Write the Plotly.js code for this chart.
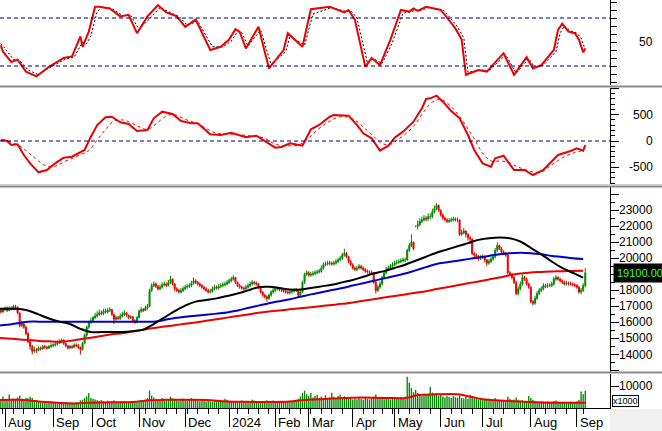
<!DOCTYPE html>
<html><head><meta charset="utf-8">
<script src="https://cdn.plot.ly/plotly-3.0.1.min.js"></script>
<style>html,body{margin:0;padding:0;background:#fff}#chart{width:662px;height:431px}</style>
</head><body><div id="chart"></div>
<script>
// ---- calendar ----
const START_DATE = '2023-07-26';
const HOLIDAYS = ['2023-09-01','2023-09-04','2024-01-01','2024-02-08','2024-02-09','2024-02-12','2024-02-13','2024-02-14','2024-04-18','2024-04-30','2024-05-01','2024-09-02','2024-09-03'];
const MONTHS = ['Jan','Feb','Mar','Apr','May','Jun','Jul','Aug','Sep','Oct','Nov','Dec'];

// ---- daily OHLC (one value per trading day) ----
const open = [
16800,16700,16800,16650,16800,16900,16750,16900,16850,17000,
16950,16600,15800,15900,15700,15300,14800,14500,14200,14300,
14250,14400,14350,14500,14450,14400,14500,14550,14600,14650,
14700,14800,14900,14700,14550,14400,14500,14450,14600,14550,
14450,14300,14700,15200,15700,16000,16100,16300,16400,16500,
16600,16550,16700,16650,16750,16800,16500,16200,16300,16250,
16400,16500,16600,16450,16300,16350,16100,16000,16300,16700,
16800,16750,16900,17000,18000,18300,18400,18250,18100,18200,
18350,18400,18300,18500,18700,18400,18100,18000,17900,18000,
18100,18200,18250,18300,18450,18600,18500,18400,18300,18200,
18100,18000,17900,17950,18100,18200,18150,18250,18300,18350,
18400,18500,18600,18700,18800,18500,18300,18200,18150,18100,
18200,18300,18400,18500,18450,18400,18200,17900,17700,17600,
17500,17700,17900,18000,18100,18100,18050,18000,17950,17900,
17850,17900,17950,18000,18000,17700,17900,18500,19000,19100,
18950,19000,19050,19100,19150,19200,19400,19600,19650,19700,
19700,19650,19700,19800,19900,20000,20200,20300,20100,19800,
19600,19400,19300,19400,19500,19400,19300,19200,19150,19100,
19100,18500,18000,18200,18400,18800,19100,19300,19400,19500,
19600,19700,19750,19800,19850,19900,19900,20500,20800,21000,
22000,22000,22100,22300,22400,22500,22450,22600,22600,22900,
23100,23300,23000,22700,22500,22400,22300,22350,22400,22450,
22400,22400,21500,21600,21700,21500,21300,21200,20300,20200,
20100,20000,20050,20100,19900,19700,19800,19950,20100,20500,
20800,20600,20400,20300,20200,19100,19000,18800,18500,17800,
18100,18400,18800,18700,18400,18200,17300,17200,17500,17800,
18000,18100,18300,18250,18300,18300,18400,18700,18800,18700,
18600,18500,18400,18450,18400,18400,18350,18300,18200,17900,
18000,18300];
const high = [
16900,16900,16900,16900,17000,17000,17000,17000,17100,17100,
17000,16600,16100,16000,15800,15400,14900,14600,14500,14400,
14500,14500,14600,14600,14550,14600,14700,14700,14750,14850,
14950,15000,14950,14750,14600,14600,14600,14700,14700,14650,
14500,14800,15300,15800,16100,16300,16400,16600,16700,16800,
16750,16850,16850,16900,16950,16850,16550,16450,16400,16550,
16650,16750,16650,16500,16450,16400,16200,16400,16800,16950,
16900,17050,17150,18100,18450,18550,18500,18350,18350,18500,
18550,18500,18650,18900,18750,18450,18200,18100,18150,18250,
18350,18400,18450,18600,18800,18700,18600,18500,18400,18300,
18200,18100,18100,18250,18350,18300,18400,18450,18500,18550,
18650,18750,18850,18950,18850,18550,18400,18300,18250,18350,
18450,18550,18650,18600,18550,18450,18250,17950,17800,17700,
17800,18000,18150,18250,18250,18200,18150,18100,18050,18000,
18050,18100,18150,18150,18050,18000,18600,19100,19250,19200,
19150,19200,19250,19300,19350,19550,19750,19800,19850,19850,
19800,19850,19950,20050,20150,20350,20600,20400,20150,19900,
19700,19500,19550,19650,19600,19500,19400,19300,19250,19250,
19150,18600,18350,18550,18900,19250,19450,19550,19650,19750,
19850,19900,19950,20000,20050,20050,20600,20950,21500,21050,
22000,22350,22500,22600,22700,22650,22800,22800,23100,23300,
23450,23350,23050,22800,22600,22500,22500,22550,22600,22550,
22550,22400,21800,21900,21750,21550,21400,21250,20400,20300,
20200,20200,20250,20150,19950,19950,20100,20250,20650,21000,
20850,20700,20500,20400,20300,19200,19100,18900,18600,18250,
18550,19000,18900,18800,18500,18250,17400,17650,17950,18150,
18250,18450,18400,18450,18450,18550,18850,18950,18900,18800,
18700,18600,18600,18550,18550,18500,18450,18400,18300,18150,
18450,19400];
const low = [
16600,16600,16550,16600,16700,16650,16700,16750,16800,16850,
16500,15700,15700,15600,15200,14700,14300,14000,14100,14100,
14200,14250,14300,14350,14300,14350,14400,14450,14500,14550,
14650,14700,14600,14450,14300,14350,14350,14400,14450,14350,
14000,14250,14650,15100,15600,15900,16000,16200,16300,16400,
16450,16450,16550,16550,16650,16400,15900,16100,16150,16150,
16300,16400,16350,16200,16200,16000,15900,15950,16250,16600,
16650,16700,16800,16950,17900,18200,18150,18000,18000,18100,
18250,18200,18250,18400,18300,17950,17900,17800,17800,17900,
18000,18100,18150,18200,18350,18400,18300,18200,18100,18000,
17900,17800,17800,17850,18000,18050,18050,18150,18200,18250,
18300,18400,18500,18600,18400,18200,18100,18050,18000,18000,
18100,18200,18300,18350,18300,18100,17800,17600,17500,17300,
17400,17600,17800,17900,18000,17950,17900,17850,17800,17750,
17750,17800,17850,17900,17600,17600,17850,18400,18900,18850,
18850,18900,18950,19000,19050,19100,19300,19500,19550,19550,
19550,19550,19600,19700,19800,19900,20100,20000,19700,19500,
19300,19200,19200,19300,19300,19200,19100,19050,19000,18950,
18400,17800,17900,18100,18300,18700,19000,19200,19300,19400,
19500,19600,19650,19700,19750,19750,19850,20400,20700,20500,
22000,21800,22000,22200,22300,22300,22350,22450,22500,22800,
23000,22900,22600,22400,22300,22200,22200,22250,22300,22300,
22250,21400,21400,21500,21300,21100,20900,20200,20000,19950,
19850,19900,19950,19750,19500,19600,19700,19850,20000,20400,
20500,20300,20200,20100,19000,18900,18700,18400,17700,17700,
18000,18300,18600,18300,18100,17200,17050,17100,17400,17700,
17900,18000,18150,18150,18200,18200,18300,18600,18600,18500,
18400,18300,18300,18300,18300,18250,18200,18100,17800,17750,
17900,18200];
const close = [
16700,16800,16650,16800,16900,16750,16900,16850,17000,16950,
16600,15800,15900,15700,15300,14800,14500,14200,14300,14250,
14400,14350,14500,14450,14400,14500,14550,14600,14650,14700,
14800,14900,14700,14550,14400,14500,14450,14600,14550,14450,
14300,14700,15200,15700,16000,16100,16300,16400,16500,16600,
16550,16700,16650,16750,16800,16500,16200,16300,16250,16400,
16500,16600,16450,16300,16350,16100,16000,16300,16700,16800,
16750,16900,17000,18000,18300,18400,18250,18100,18200,18350,
18400,18300,18500,18700,18400,18100,18000,17900,18000,18100,
18200,18250,18300,18450,18600,18500,18400,18300,18200,18100,
18000,17900,17950,18100,18200,18150,18250,18300,18350,18400,
18500,18600,18700,18800,18500,18300,18200,18150,18100,18200,
18300,18400,18500,18450,18400,18200,17900,17700,17600,17500,
17700,17900,18000,18100,18100,18050,18000,17950,17900,17850,
17900,17950,18000,18000,17700,17900,18500,19000,19100,18950,
19000,19050,19100,19150,19200,19400,19600,19650,19700,19700,
19650,19700,19800,19900,20000,20200,20300,20100,19800,19600,
19400,19300,19400,19500,19400,19300,19200,19150,19100,19100,
18500,18000,18200,18400,18800,19100,19300,19400,19500,19600,
19700,19750,19800,19850,19900,19900,20500,20800,21000,20600,
22000,22100,22300,22400,22500,22450,22600,22600,22900,23100,
23300,23000,22700,22500,22400,22300,22350,22400,22450,22400,
22400,21500,21600,21700,21500,21300,21200,20300,20200,20100,
20000,20050,20100,19900,19700,19800,19950,20100,20500,20800,
20600,20400,20300,20200,19100,19000,18800,18500,17800,18100,
18400,18800,18700,18400,18200,17300,17200,17500,17800,18000,
18100,18300,18250,18300,18300,18400,18700,18800,18700,18600,
18500,18400,18450,18400,18400,18350,18300,18200,17900,18000,
18300,19100];
// volume, thousands of shares
const volume = [
3800,4200,3500,5200,3600,4000,6100,3900,4300,3700,
4800,5600,4200,3900,4700,4400,5100,4600,3200,2800,
3000,2600,2400,2900,2200,2500,2300,2700,2400,2100,
2600,2800,2300,2500,2200,2000,2400,2100,2600,2300,
3500,3800,4500,5200,6800,4600,4200,3900,3500,3200,
3600,3000,2900,3300,2800,3100,3400,2700,2600,3000,
2800,3200,2500,2900,2700,3100,2800,3000,3400,3600,
3200,3800,4500,7900,5600,4800,4200,3800,3500,4600,
3900,3600,4100,5200,4400,3700,3500,3300,3900,4200,
3600,3400,3800,4500,4000,3700,3300,3100,3500,3200,
2900,3400,3000,2800,3200,3600,3100,2900,3300,4200,
3800,3000,2800,3200,2700,2600,3000,3400,2900,3100,
2700,3200,3800,3400,2900,2600,3000,2800,3300,3500,
3100,2900,3400,3000,2700,2900,3200,2800,2600,3000,
3300,2900,3500,3800,4200,5200,6900,7900,6200,5400,
6800,4800,5500,6000,4500,5200,4600,5800,4300,4800,
6900,5100,4600,5400,6000,4700,5300,4400,4100,4600,
3900,4300,4000,4500,4200,3800,4600,4100,3900,4400,
5200,6100,4800,4300,4600,4000,4400,4700,3900,4200,
4500,4100,4800,5000,4600,5200,14200,11500,9000,7200,
8200,6800,6000,5400,6500,5900,6200,9700,7000,6400,
6800,5500,6100,5200,4800,5600,5000,4600,5300,4900,
4700,5800,4600,4300,5000,4200,6000,4900,4400,4100,
3900,4300,3600,4000,3700,4200,3500,3800,4500,3900,
3400,3600,3200,3500,5100,4200,3600,3900,4800,3700,
3300,3500,3000,3200,5500,4600,3800,3300,3000,2800,
3100,2900,2700,3000,2600,2800,3200,3400,2900,2700,
2500,2800,2600,2400,2900,2700,2500,3000,3600,7500,
6200,7800];

// ---- moving averages, sampled every 5 trading days ----
const maBlack = [16850,16850,16850,16750,16500,16250,16050,15900,15600,15400,
15400,15400,15400,15450,15550,15900,16300,16700,17050,17300,
17400,17500,17650,17800,18000,18200,18220,18150,18050,18050,
18150,18250,18350,18500,18650,18850,19050,19200,19400,19600,
19850,20100,20350,20550,20750,20950,21150,21250,21300,21250,
21050,20650,20250,19800,19400,19100,18800];
const maBlue = [15800,15850,15950,16050,16050,16050,16050,16050,16050,16050,
16050,16050,16050,16050,16050,16050,16150,16280,16350,16420,
16480,16550,16620,16750,16900,17050,17200,17320,17450,17600,
17750,17880,18020,18150,18300,18450,18600,18750,18900,19050,
19250,19450,19650,19750,19850,19950,20050,20150,20250,20320,
20350,20320,20250,20150,20080,20000,19950];
const maRed = [15050,15000,14950,14900,14850,14820,14800,14850,14950,15050,
15150,15260,15320,15450,15550,15650,15740,15830,15920,16000,
16100,16200,16300,16400,16500,16600,16680,16750,16820,16880,
16950,17020,17090,17160,17250,17350,17450,17550,17650,17750,
17850,17950,18080,18200,18320,18440,18560,18680,18800,18950,
19050,19120,19150,19180,19200,19210,19220];

const volMaDays = [0,10,20,30,37,45,55,65,73,80,90,100,110,120,130,140,147,160,170,180,190,196,201,210,220,226,232,240,250,260,270,281];
const volMa = [3600,3700,3000,2300,2100,2400,2600,2700,3500,3700,3700,3600,3000,2800,2700,2900,3600,4300,4700,4700,4500,4600,5900,6200,6200,5200,4000,3400,2900,2500,2400,2400];

// ---- oscillator (top panel) ----
const oscDays = [2,3,7,10,14,19,25,32,36,40,41,44,47,49,54,59,63,67,72,77,81,86,90,95,102,107,111,114,116,119,125,130,137,139,146,150,159,166,168,171,176,179,183,188,193,197,199,201,205,212,214,219,222,224,230,234,242,247,253,256,260,266,268,270,273,276,278,280,281];
const oscValues = [46,38,25,28,13,7,19,30,32,57,44,63,94,94,92,82,84,61,82,96,87,82,69,78,40,44,53,66,63,42,69,17,40,61,44,91,94,87,90,78,19,30,21,53,90,88,92,89,94,90,84,67,53,9,15,13,36,9,31,17,21,40,65,73,63,61,53,37,42];
const oscSigDays = [2,4,8,11,15,20,26,33,37,41,43,45,48,50,55,60,64,68,73,78,82,87,91,96,103,108,112,115,117,120,126,131,138,140,147,151,160,167,169,172,177,180,184,189,194,198,200,202,206,213,215,220,223,225,231,235,243,248,254,257,261,267,269,271,274,277,279,281];
const oscSignal = [48,42,28,27,15,9,19,29,31,50,48,58,88,93,92,83,83,66,79,93,88,82,71,76,44,44,51,63,62,45,65,22,38,57,46,85,93,88,89,80,24,29,23,50,86,88,90,89,93,90,85,69,55,12,15,14,34,11,29,18,21,38,61,70,64,61,55,40];
const oscLevels = [80, 20];

// ---- MACD (second panel) ----
const macdDays = [2,5,7,10,13,16,20,24,28,32,36,40,42,45,48,52,55,59,63,67,72,75,79,84,88,93,96,102,107,112,119,124,128,133,136,140,146,150,154,159,161,168,172,175,179,183,187,190,194,199,203,205,207,210,213,217,221,225,228,232,236,238,242,247,252,256,261,268,274,277,280,281];
const macdValues = [19,0,-76,-63,-266,-424,-595,-551,-424,-317,-298,-203,-171,82,304,450,462,355,323,190,209,431,557,513,380,336,336,127,114,158,70,101,0,-127,-114,-44,-89,222,304,462,494,481,304,146,51,-184,-89,63,177,367,621,798,811,861,747,570,431,114,-171,-424,-488,-329,-279,-551,-551,-646,-551,-266,-190,-139,-184,-76];
const sigDays = [0,4,8,12,16,20,24,28,32,36,40,44,48,52,56,60,64,68,72,76,80,84,88,92,96,100,104,108,112,116,120,124,128,132,136,140,144,148,152,156,160,164,168,172,176,180,184,188,192,196,200,204,208,212,216,220,224,228,232,236,240,244,248,252,256,260,264,268,272,276,280];
const sigValues = [60,20,-40,-120,-250,-380,-480,-480,-400,-330,-260,-180,20,220,380,400,350,270,220,320,450,510,450,380,330,240,160,130,130,120,100,90,50,-40,-90,-90,-80,20,170,300,400,460,450,370,230,90,-50,-60,40,160,330,560,740,790,690,520,290,40,-230,-380,-380,-400,-480,-540,-590,-590,-480,-370,-280,-220,-180];

// ---- axis ticks ----
const oscTicks = [0,10,20,30,40,50,60,70,80,90,100];
const oscLabels = [50];
const macdMajor = [-500,0,500,1000];
const macdLabels = [-500,0,500];
const priceMajor = [13000,14000,15000,16000,17000,18000,19000,20000,21000,22000,23000,24000];
// 19000 sits under the last-price box, so it is not labelled
const priceLabels = [14000,15000,16000,17000,18000,20000,21000,22000,23000];
const volMajor = [10000];
const volLabels = [10000];

// ---- build trading calendar ----
const N = close.length;
const dates = [];
{
  const hol = new Set(HOLIDAYS);
  let d = new Date(START_DATE + 'T00:00:00Z');
  while (dates.length < N) {
    const wd = d.getUTCDay();
    const iso = d.toISOString().slice(0,10);
    if (wd !== 0 && wd !== 6 && !hol.has(iso)) dates.push(new Date(d));
    d.setUTCDate(d.getUTCDate() + 1);
  }
}
const dayIdx = dates.map((_, i) => i);
const monthIdx = [], monthText = [], weekIdx = [];
for (let i = 1; i < N; i++) {
  if (dates[i].getUTCMonth() !== dates[i-1].getUTCMonth()) {
    monthIdx.push(i);
    const m = dates[i].getUTCMonth();
    monthText.push(m === 0 ? String(dates[i].getUTCFullYear()) : MONTHS[m]);
  }
  if (dates[i].getUTCDay() < dates[i-1].getUTCDay()) weekIdx.push(i);
}
const maDays = maBlack.map((_, k) => k * 5);

// ---- geometry (pixels) ----
const W = 662, H = 431, PLOT_W = 610, PLOT_H = 408;
const pxY = y => (PLOT_H - y) / PLOT_H;   // pixel row -> paper y
const pxX = x => x / PLOT_W;              // pixel col -> paper x
const FONT = 'Liberation Sans, Arial, sans-serif';
const GREEN = '#008a00', RED = '#ee0000';

const traces = [
  {x: oscSigDays, y: oscSignal, yaxis: 'y', type: 'scatter', mode: 'lines', line: {color: '#000', width: 1, dash: '2px,2px'}},
  {x: oscDays, y: oscValues, yaxis: 'y', type: 'scatter', mode: 'lines', line: {color: RED, width: 2}},
  {x: sigDays, y: sigValues, yaxis: 'y2', type: 'scatter', mode: 'lines', line: {color: RED, width: 1, dash: '3px,3px', shape: 'spline'}},
  {x: macdDays, y: macdValues, yaxis: 'y2', type: 'scatter', mode: 'lines', line: {color: RED, width: 2}},
  {x: maDays, y: maRed, yaxis: 'y3', type: 'scatter', mode: 'lines', line: {color: RED, width: 2, shape: 'spline'}},
  {x: maDays, y: maBlue, yaxis: 'y3', type: 'scatter', mode: 'lines', line: {color: '#0000cc', width: 2, shape: 'spline'}},
  {x: maDays, y: maBlack, yaxis: 'y3', type: 'scatter', mode: 'lines', line: {color: '#000', width: 2, shape: 'spline'}},
  {type: 'candlestick', x: dayIdx, open: open, high: high, low: low, close: close, yaxis: 'y3',
   increasing: {line: {color: GREEN, width: 1}, fillcolor: GREEN},
   decreasing: {line: {color: RED, width: 1}, fillcolor: RED}, whiskerwidth: 0},
  {type: 'bar', x: dayIdx, y: volume, yaxis: 'y4', marker: {color: GREEN, line: {width: 0}}},
  {x: volMaDays, y: volMa, yaxis: 'y4', type: 'scatter', mode: 'lines', line: {color: RED, width: 2, shape: 'spline'}}
];

function yAxis(domain, range, major, minor, len) {
  return {
    domain: domain, range: range, side: 'right', anchor: 'x', fixedrange: true,
    showgrid: false, zeroline: false, showline: true, linecolor: '#000', linewidth: 1,
    ticks: 'outside', tickmode: 'array', tickvals: major, ticklen: len, tickcolor: '#000', tickwidth: 1,
    showticklabels: false,
    minor: minor ? {tickmode: 'array', tickvals: minor, ticks: 'outside', ticklen: 4, tickcolor: '#000'} : undefined
  };
}
const macdMinor = [], priceMinor = [];
for (let v = -800; v <= 1000; v += 100) macdMinor.push(v);
for (let v = 12500; v <= 24500; v += 500) priceMinor.push(v);

const annotations = [];
const labelFont = {family: FONT, size: 12, color: '#000'};
function yLabels(vals, axis) {
  vals.forEach(v => annotations.push({xref: 'paper', x: pxX(655), xanchor: 'right', yref: axis, y: v,
    yanchor: 'middle', text: String(v), showarrow: false, font: labelFont}));
}
yLabels(oscLabels, 'y'); yLabels(macdLabels, 'y2'); yLabels(priceLabels, 'y3'); yLabels(volLabels, 'y4');
monthIdx.forEach((m, k) => annotations.push({xref: 'x', x: m, xanchor: 'left', xshift: 1, yref: 'paper', y: pxY(422),
  yanchor: 'middle', text: monthText[k], showarrow: false, font: {family: FONT, size: 13, color: '#000'}}));
annotations.push({xref: 'paper', x: pxX(613), xanchor: 'left', yref: 'y3', y: close[N-1], yanchor: 'middle',
  text: close[N-1].toFixed(2), showarrow: false, bgcolor: '#000', borderpad: 3,
  font: {family: FONT, size: 11, color: '#3cff3c'}});
annotations.push({xref: 'paper', x: pxX(612), xanchor: 'left', yref: 'paper', y: pxY(400.5), yanchor: 'middle',
  text: 'x1000', showarrow: false, bgcolor: '#fff', bordercolor: '#000', borderwidth: 1, borderpad: 0,
  font: {family: FONT, size: 9, color: '#000'}});

const shapes = [];
oscLevels.forEach(v => shapes.push({type: 'line', xref: 'paper', x0: 0, x1: 1, yref: 'y', y0: v, y1: v,
  line: {color: '#000080', width: 1, dash: '4px,3px'}}));
shapes.push({type: 'line', xref: 'paper', x0: 0, x1: 1, yref: 'y2', y0: 0, y1: 0,
  line: {color: '#000080', width: 1, dash: '4px,3px'}});
[[86.5, '#8a8a8a', 2], [184.5, '#d4d4d4', 1], [186.5, '#8a8a8a', 2], [372.5, '#8a8a8a', 2]].forEach(s =>
  shapes.push({type: 'line', xref: 'paper', x0: 0, x1: pxX(W), yref: 'paper', y0: pxY(s[0]), y1: pxY(s[0]),
    line: {color: s[1], width: s[2]}}));
shapes.push({type: 'rect', xref: 'paper', x0: pxX(610), x1: pxX(W), yref: 'paper', y0: pxY(H), y1: pxY(409),
  fillcolor: '#f0f0f0', line: {width: 0}, layer: 'below'});

const layout = {
  width: W, height: H, margin: {l: 0, r: W - PLOT_W, t: 0, b: H - PLOT_H, pad: 0},
  paper_bgcolor: '#fff', plot_bgcolor: '#fff', showlegend: false, hovermode: false,
  font: {family: FONT, size: 12, color: '#000'}, bargap: 0.35,
  xaxis: {range: [1.61, 292.8], anchor: 'y4', showgrid: false, zeroline: false, showline: true,
    linecolor: '#000', linewidth: 1, ticks: 'outside', tickmode: 'array', tickvals: monthIdx, ticklen: 18,
    tickcolor: '#000', showticklabels: false, rangeslider: {visible: false}, fixedrange: true,
    minor: {tickmode: 'array', tickvals: weekIdx, ticks: 'outside', ticklen: 5, tickcolor: '#000'}},
  yaxis: yAxis([pxY(85), 1], [-3.75, 102.5], oscTicks, null, 6),
  yaxis2: yAxis([pxY(184), pxY(88)], [-817, 1007], macdMajor, macdMinor, 8),
  yaxis3: yAxis([pxY(373), pxY(187)], [12846, 24449], priceMajor, priceMinor, 8),
  yaxis4: yAxis([0, pxY(374)], [0, 15455], volMajor, null, 8),
  shapes: shapes, annotations: annotations
};
Plotly.newPlot('chart', traces, layout, {staticPlot: true, displayModeBar: false});
</script>
</body></html>
